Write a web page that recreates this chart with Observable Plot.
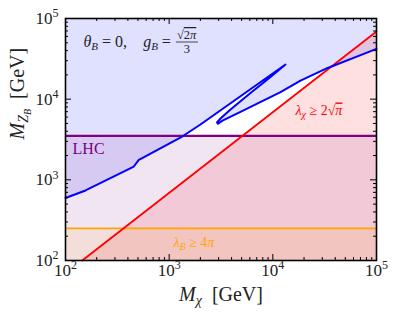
<!DOCTYPE html>
<html><head><meta charset="utf-8">
<script src="https://cdn.jsdelivr.net/npm/d3@7"></script>
<script src="https://cdn.jsdelivr.net/npm/@observablehq/plot@0.6"></script>
<style>body{margin:0;background:#fff} #chart{width:399px;height:319px}</style>
</head><body><div id="chart"></div>
<script>
const xDomain = [1e2, 1e5];
const yDomain = [1e2, 1e5];
const majorTicks = [1e2, 1e3, 1e4, 1e5];
const minorTicks = [200,300,400,500,600,700,800,900,2000,3000,4000,5000,6000,7000,8000,9000,20000,30000,40000,50000,60000,70000,80000,90000];
// relic-density contour (blue)
const blueX = [100, 156, 456, 509, 549, 1336, 2004, 13240, 9495, 6088, 3905, 3127, 2893, 2958, 3269, 4875, 11860, 18500, 33400, 100000];
const blueY = [595, 738, 1462, 1772, 1854, 3443, 4853, 26900, 18830, 11928, 7447, 5759, 5138, 4951, 5424, 6971, 12200, 17000, 24200, 42100];
// perturbativity lambda_chi (red)
const redX = [145, 100000];
const redY = [100, 69000];
const lhcMass = 3500;
const lambdaBMass = 250;

const blueLine = blueX.map((x, i) => ({x, y: blueY[i]}));
const bluePoly = [...blueLine, {x: xDomain[1], y: yDomain[1]}, {x: xDomain[0], y: yDomain[1]}];
const redLine = redX.map((x, i) => ({x, y: redY[i]}));
const redPoly = [...redLine, {x: xDomain[1], y: yDomain[0]}];
const lhcRect = [{x1: xDomain[0], x2: xDomain[1], y1: yDomain[0], y2: lhcMass}];
const lamBRect = [{x1: xDomain[0], x2: xDomain[1], y1: yDomain[0], y2: lambdaBMass}];

const W = 399 - 65 - 23, H = 319 - 18 - 59;
const FONT = "'Liberation Serif', 'DejaVu Serif', serif";
const expFmt = d => "10^" + Math.round(Math.log10(d));

const chart = Plot.plot({
  width: 399, height: 319,
  marginLeft: 65, marginRight: 23, marginTop: 18, marginBottom: 59,
  x: {type: "log", domain: xDomain},
  y: {type: "log", domain: yDomain},
  style: {fontFamily: FONT, background: "#fff", overflow: "visible"},
  marks: [
    Plot.line(bluePoly, {x: "x", y: "y", fill: "#0000ff", fillOpacity: 0.12, stroke: "none"}),
    Plot.line(redPoly, {x: "x", y: "y", fill: "#ff0000", fillOpacity: 0.12, stroke: "none"}),
    Plot.rect(lhcRect, {x1: "x1", x2: "x2", y1: "y1", y2: "y2", fill: "#800080", fillOpacity: 0.1}),
    Plot.rect(lamBRect, {x1: "x1", x2: "x2", y1: "y1", y2: "y2", fill: "#ffa500", fillOpacity: 0.1}),
    Plot.ruleY([lambdaBMass], {stroke: "#ffa500", strokeWidth: 1.6}),
    Plot.ruleY([lhcMass], {stroke: "#800080", strokeWidth: 2.2}),
    Plot.line(redLine, {x: "x", y: "y", stroke: "#ff0000", strokeWidth: 1.8}),
    Plot.line(blueLine, {x: "x", y: "y", stroke: "#0000ff", strokeWidth: 2}),
    // ticks, inward on all four sides
    Plot.tickX(majorTicks, {x: d => d, insetTop: H - 6, stroke: "#000"}),
    Plot.tickX(majorTicks, {x: d => d, insetBottom: H - 6, stroke: "#000"}),
    Plot.tickX(minorTicks, {x: d => d, insetTop: H - 3, stroke: "#000"}),
    Plot.tickX(minorTicks, {x: d => d, insetBottom: H - 3, stroke: "#000"}),
    Plot.tickY(majorTicks, {y: d => d, insetRight: W - 6, stroke: "#000"}),
    Plot.tickY(majorTicks, {y: d => d, insetLeft: W - 6, stroke: "#000"}),
    Plot.tickY(minorTicks, {y: d => d, insetRight: W - 3, stroke: "#000"}),
    Plot.tickY(minorTicks, {y: d => d, insetLeft: W - 3, stroke: "#000"}),
    Plot.frame({stroke: "#000", strokeWidth: 1.6}),
    Plot.axisX(majorTicks, {anchor: "bottom", tickSize: 0, tickPadding: 3, tickFormat: expFmt, fontSize: 17, fill: "#222", label: null}),
    Plot.axisY(majorTicks, {anchor: "left", tickSize: 0, tickPadding: 7, tickFormat: expFmt, fontSize: 17, fill: "#222", label: null}),
    Plot.text([0], {frameAnchor: "bottom", dy: 40, lineAnchor: "bottom", text: () => "@XLABEL", fontSize: 20, fill: "#222"}),
    Plot.text([0], {frameAnchor: "left", dx: -42, rotate: -90, lineAnchor: "bottom", text: () => "@YLABEL", fontSize: 20, fill: "#222"}),
    Plot.text([0], {frameAnchor: "top-left", dx: 18, dy: 28, lineAnchor: "bottom", textAnchor: "start", text: () => "@TITLE", fontSize: 16, fill: "#222"}),
    Plot.text([0], {x: () => 117, y: () => 2061, lineAnchor: "bottom", textAnchor: "start", text: () => "LHC", fontSize: 16, fill: "#800080"}),
    Plot.text([0], {x: () => 16540, y: () => 6276, lineAnchor: "bottom", textAnchor: "start", text: () => "@LCHI", fontSize: 14, fill: "#ff0000"}),
    Plot.text([0], {x: () => 1101, y: () => 145, lineAnchor: "bottom", textAnchor: "start", text: () => "@LB", fontSize: 14, fill: "#ffa500"})
  ]
});
document.getElementById("chart").appendChild(chart);

const NS = "http://www.w3.org/2000/svg";
function setRich(el, parts) {
  el.textContent = "";
  el.style.whiteSpace = "pre";
  let shift = 0;
  for (const p of parts) {
    const ts = document.createElementNS(NS, "tspan");
    ts.textContent = p.t;
    const s = p.shift || 0;
    if (s !== shift) { ts.setAttribute("dy", s - shift); shift = s; }
    if (p.it) ts.setAttribute("font-style", "italic");
    if (p.size) ts.setAttribute("font-size", p.size);
    if (p.over) ts.setAttribute("text-decoration", "overline");
    el.appendChild(ts);
  }
}
const texts = Array.from(chart.querySelectorAll("text"));
let titleEl = null;
for (const el of texts) {
  const c = el.textContent;
  const m = /^10\^(\d)$/.exec(c);
  if (m) {
    setRich(el, [{t: "10"}, {t: m[1], size: 12, shift: -6.5}]);
  } else if (c === "@XLABEL") {
    setRich(el, [{t: "M", it: true}, {t: "χ", it: true, size: 14, shift: 4}, {t: "  [GeV]", shift: 0}]);
  } else if (c === "@YLABEL") {
    setRich(el, [{t: "M", it: true}, {t: "Z", it: true, size: 14, shift: 4}, {t: "B", it: true, size: 10, shift: 7}, {t: "  [GeV]", shift: 0}]);
  } else if (c === "@TITLE") {
    setRich(el, [{t: "θ", it: true}, {t: "B", it: true, size: 11, shift: 3}, {t: " = 0,    ", shift: 0}, {t: "g", it: true}, {t: "B", it: true, size: 11, shift: 3}, {t: " = ", shift: 0}]);
    titleEl = el;
  } else if (c === "@LCHI") {
    setRich(el, [{t: "λ", it: true}, {t: "χ", it: true, size: 10, shift: 3}, {t: " ≥ 2√", shift: 0}, {t: "π", it: true, over: true}]);
  } else if (c === "@LB") {
    setRich(el, [{t: "λ", it: true}, {t: "B", it: true, size: 10, shift: 3}, {t: " ≥ 4", shift: 0}, {t: "π", it: true}]);
  }
}
if (titleEl) {
  const g = titleEl.parentNode;
  const tr = titleEl.getAttribute("transform") || "";
  const grp = document.createElementNS(NS, "g");
  if (tr) grp.setAttribute("transform", tr);
  g.appendChild(grp);
  const local = titleEl.getBBox();
  const x0 = local.x + local.width + 1;
  const num = document.createElementNS(NS, "text");
  num.setAttribute("x", x0 + 1); num.setAttribute("y", -7.5);
  num.setAttribute("font-size", 12.5); num.setAttribute("fill", "#222");
  num.innerHTML = '<tspan>√</tspan><tspan text-decoration="overline">2<tspan font-style="italic">π</tspan></tspan>';
  grp.appendChild(num);
  const nb = num.getBBox();
  const den = document.createElementNS(NS, "text");
  den.setAttribute("x", x0 + 1 + nb.width / 2); den.setAttribute("y", 6.5);
  den.setAttribute("text-anchor", "middle");
  den.setAttribute("font-size", 12.5); den.setAttribute("fill", "#222");
  den.textContent = "3";
  grp.appendChild(den);
  const bar = document.createElementNS(NS, "line");
  bar.setAttribute("x1", x0); bar.setAttribute("x2", x0 + nb.width + 2);
  bar.setAttribute("y1", -4.5); bar.setAttribute("y2", -4.5);
  bar.setAttribute("stroke", "#222"); bar.setAttribute("stroke-width", 0.8);
  grp.appendChild(bar);
}
</script></body></html>
